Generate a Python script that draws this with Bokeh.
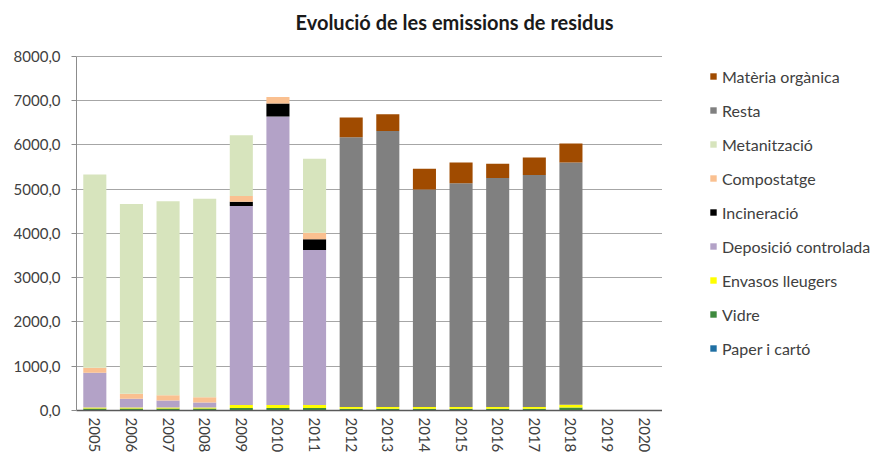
from bokeh.plotting import figure
from bokeh.layouts import row
from bokeh.models import (ColumnDataSource, FactorRange, Range1d, Legend, LegendItem,
                          CustomJSTickFormatter, FixedTicker, Label)
from bokeh.embed import file_html
from bokeh.resources import INLINE

years = [str(y) for y in range(2005, 2021)]

paper = [5, 5, 5, 5, 5, 5, 5, 5, 5, 5, 5, 5, 5, 5, 0, 0]
vidre = [40, 40, 40, 40, 50, 50, 50, 35, 35, 35, 35, 35, 35, 60, 0, 0]
envasos = [25, 25, 25, 25, 70, 70, 70, 40, 40, 40, 40, 40, 40, 65, 0, 0]
deposicio = [780, 193, 155, 110, 4494, 6515, 3503, 0, 0, 0, 0, 0, 0, 0, 0, 0]
incineracio = [0, 0, 0, 0, 98, 293, 241, 0, 0, 0, 0, 0, 0, 0, 0, 0]
compostatge = [113, 113, 121, 120, 128, 149, 149, 0, 0, 0, 0, 0, 0, 0, 0, 0]
metanitzacio = [4371, 4288, 4379, 4484, 1374, 0, 1667, 0, 0, 0, 0, 0, 0, 0, 0, 0]
resta = [0, 0, 0, 0, 0, 0, 0, 6094, 6236, 4915, 5051, 5170, 5238, 5474, 0, 0]
materia = [0, 0, 0, 0, 0, 0, 0, 444, 376, 465, 473, 323, 399, 428, 0, 0]

series_names = ["Paper i cartó", "Vidre", "Envasos lleugers", "Deposició controlada",
                "Incineració", "Compostatge", "Metanització", "Resta", "Matèria orgànica"]
series_values = [paper, vidre, envasos, deposicio, incineracio, compostatge,
                 metanitzacio, resta, materia]
colors = ["#1F6FA3", "#3E8A3E", "#FFFF00", "#B3A2C7", "#000000", "#FAC090",
          "#D7E4BD", "#808080", "#A04B00"]
y_ticks = list(range(0, 8001, 1000))
title_text = "Evolució de les emissions de residus"

keys = ["s%d" % i for i in range(len(series_names))]
data = {"year": years}
for k, v in zip(keys, series_values):
    data[k] = v
source = ColumnDataSource(data)

FONT = "Lato"

# frame spans the full height above the axis; the scale keeps 8000 at y=56px
Y_MAX = 8000 * 411 / 355.0

p = figure(x_range=FactorRange(*years, range_padding=0), y_range=Range1d(0, Y_MAX),
           width=662, height=455, output_backend="svg", toolbar_location=None,
           min_border_left=76, min_border_right=0, min_border_top=0, min_border_bottom=44)
p.outline_line_color = None

p.vbar_stack(keys, x="year", width=0.63, color=colors, line_color=None, source=source)

title = Label(x=5.98, y=8000 + 34.5 * 8000 / 355.0, text=title_text,
              text_align="left", text_baseline="alphabetic",
              text_font=FONT, text_font_size="20px", text_font_style="bold",
              text_color="#1a1a1a")
p.add_layout(title)

# y axis
p.yaxis.ticker = FixedTicker(ticks=y_ticks)
p.yaxis.bounds = (0, 8000)
p.yaxis.formatter = CustomJSTickFormatter(code="return tick.toFixed(1).replace('.', ',');")
p.yaxis.major_label_text_font = FONT
p.yaxis.major_label_text_font_size = "15px"
p.yaxis.major_label_text_color = "#404040"
p.yaxis.axis_line_color = "#8C8C8C"
p.yaxis.major_tick_line_color = "#8C8C8C"
p.yaxis.major_tick_out = 5
p.yaxis.major_tick_in = 0
p.yaxis.minor_tick_line_color = None
p.yaxis.major_label_standoff = 11

# x axis
p.xaxis.major_label_orientation = "vertical"
p.xaxis.major_label_text_font = FONT
p.xaxis.major_label_text_font_size = "15px"
p.xaxis.major_label_text_color = "#404040"
p.xaxis.axis_line_color = "#595959"
p.xaxis.axis_line_width = 1.5
p.xaxis.major_tick_line_color = None
p.xaxis.major_tick_out = 0
p.xaxis.major_tick_in = 0
p.xaxis.major_label_standoff = 7

p.xgrid.grid_line_color = None
p.ygrid.grid_line_color = "#A6A6A6"
p.ygrid.grid_line_width = 1

# ---- legend panel (same series, renderers hidden) ----
q = figure(x_range=FactorRange(*years), y_range=Range1d(0, 8000),
           width=209, height=455, output_backend="svg", toolbar_location=None,
           x_axis_type=None, y_axis_type=None,
           min_border_left=47, min_border_right=0, min_border_top=0, min_border_bottom=44)
q.outline_line_color = None
q.xgrid.grid_line_color = None
q.ygrid.grid_line_color = None
lr = q.vbar_stack(keys, x="year", width=0.63, color=colors, line_color=None, source=source)
for r in lr:
    r.visible = False

items = [LegendItem(label=series_names[i], renderers=[lr[i]])
         for i in reversed(range(len(series_names)))]
legend = Legend(items=items, location=(0, 52), orientation="vertical",
                padding=0, margin=0, spacing=14, glyph_width=8, glyph_height=8,
                label_height=20, label_standoff=5,
                label_text_font=FONT, label_text_font_size="16px", label_text_color="#404040",
                border_line_color=None, background_fill_alpha=0,
                inactive_fill_alpha=0)
q.add_layout(legend, "center")

layout = row(p, q)
open("out.html", "w").write(file_html(layout, INLINE))
